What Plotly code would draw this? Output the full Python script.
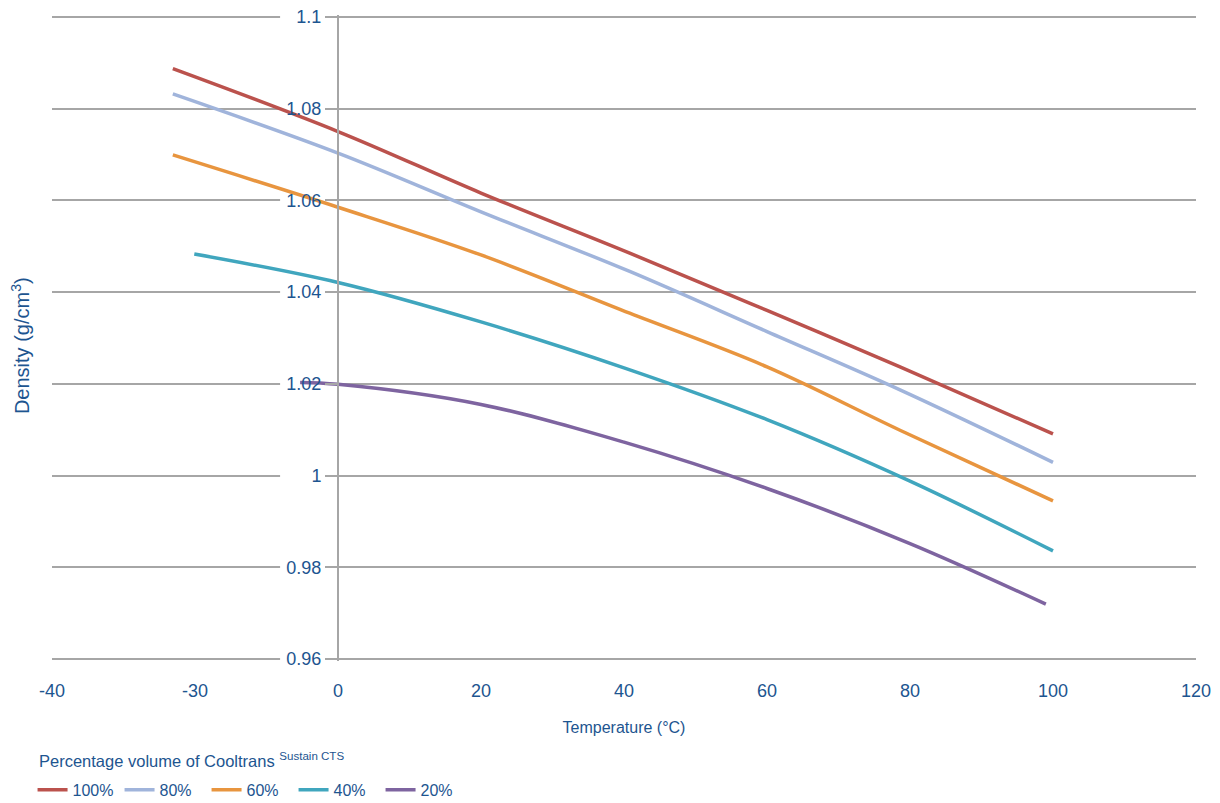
import plotly.graph_objects as go

# ---- data (x in axis units, density in g/cm3) ----
series_names = ["100%", "80%", "60%", "40%", "20%"]

x_100 = [-23.1, 0, 20, 40.8, 60, 78.6, 100]
y_100 = [1.0887, 1.0750, 1.0616, 1.0485, 1.0360, 1.0237, 1.0091]

x_80 = [-23.1, 0, 20, 40.8, 60, 78.6, 100]
y_80 = [1.0832, 1.0703, 1.0575, 1.0445, 1.0314, 1.0187, 1.0029]

x_60 = [-23.1, 0, 20, 40.8, 60, 78.6, 100]
y_60 = [1.0699, 1.0585, 1.0481, 1.0354, 1.0237, 1.0099, 0.9945]

x_40 = [-20.1, 0, 20, 40, 60, 80, 100]
y_40 = [1.0483, 1.0421, 1.0335, 1.0235, 1.0122, 0.9988, 0.9836]

x_20 = [-5.3, 0, 20, 40, 60, 80, 99]
y_20 = [1.0203, 1.0199, 1.0155, 1.0073, 0.9972, 0.9852, 0.9720]

x_tickvals = [-40, -20, 0, 20, 40, 60, 80, 100, 120]
x_ticktext = ["-40", "-30", "0", "20", "40", "60", "80", "100", "120"]
y_tickvals = [0.96, 0.98, 1.00, 1.02, 1.04, 1.06, 1.08, 1.10]
y_ticktext = ["0.96", "0.98", "1", "1.02", "1.04", "1.06", "1.08", "1.1"]

colors = ["#bb524d", "#a0b4db", "#e8953f", "#40a6be", "#7e64a0"]
TEXT = "#1d5590"
GRID = "#a6a6a6"
FONT = "Arial, Liberation Sans, sans-serif"

fig = go.Figure()
for name, xs, ys, c in zip(series_names,
                            [x_100, x_80, x_60, x_40, x_20],
                            [y_100, y_80, y_60, y_40, y_20],
                            colors):
    fig.add_trace(go.Scatter(x=xs, y=ys, mode="lines", name=name,
                             line=dict(color=c, width=3.5, shape="spline", smoothing=1.0)))

# white column behind the y tick labels (gaps the gridlines like the original)
fig.add_shape(type="rect", xref="x", yref="y", x0=-8.1, x1=-0.35, y0=0.955, y1=1.105,
              fillcolor="white", line=dict(width=0), layer="between")

fig.update_layout(
    width=1220, height=803,
    margin=dict(l=52, r=24, t=15, b=142, autoexpand=False),
    paper_bgcolor="white", plot_bgcolor="white",
    font=dict(family=FONT, size=16, color=TEXT),
    showlegend=True,
    legend=dict(orientation="h", x=-0.017, xanchor="left", y=-0.173, yanchor="top",
                font=dict(size=16, color=TEXT), itemwidth=30,
                entrywidth=42, entrywidthmode="pixels"),
    xaxis=dict(range=[-40, 120], tickvals=x_tickvals, ticktext=x_ticktext,
               showgrid=False, zeroline=False, showline=False, ticks="",
               ticklabelstandoff=17, tickfont=dict(size=18, color=TEXT),
               title=dict(text="Temperature (°C)", font=dict(size=16, color=TEXT), standoff=21)),
    yaxis=dict(range=[0.9596, 1.1004], tickvals=y_tickvals, ticktext=y_ticktext,
               anchor="free", position=0.25, showline=True, linecolor=GRID, linewidth=2,
               showgrid=True, gridcolor=GRID, gridwidth=2, zeroline=False,
               ticks="outside", ticklen=12, tickcolor=GRID, tickwidth=2,
               tickfont=dict(size=18, color=TEXT)),
    annotations=[
        dict(text="Density (g/cm<sup>3</sup>)", xref="paper", yref="paper",
             x=-0.028, y=0.489, textangle=-90, showarrow=False,
             font=dict(size=20, color=TEXT), xanchor="center", yanchor="middle"),
        dict(text="Percentage volume of Cooltrans <sup>Sustain CTS</sup>", xref="paper", yref="paper",
             x=-0.013, y=-0.154, showarrow=False, font=dict(size=16.5, color=TEXT),
             xanchor="left", yanchor="middle"),
    ],
)

fig.write_html("out.html")
